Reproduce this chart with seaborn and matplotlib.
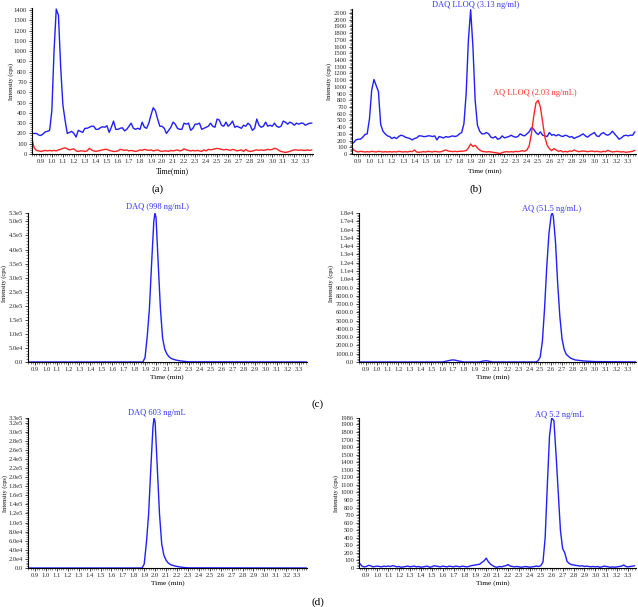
import matplotlib
matplotlib.use("Agg")
import matplotlib.pyplot as plt
from matplotlib.ticker import AutoMinorLocator
import seaborn as sns

# shared sampling grid for the noisy chromatograms (min)
time_grid = [
    0.82, 0.84, 0.86, 0.88, 0.90, 0.92, 0.94, 0.96, 0.98, 1.00,
    1.02, 1.04, 1.06, 1.08, 1.10, 1.12, 1.14, 1.16, 1.18, 1.20,
    1.22, 1.24, 1.26, 1.28, 1.30, 1.32, 1.34, 1.36, 1.38, 1.40,
    1.42, 1.44, 1.46, 1.48, 1.50, 1.52, 1.54, 1.56, 1.58, 1.60,
    1.62, 1.64, 1.66, 1.68, 1.70, 1.72, 1.74, 1.76, 1.78, 1.80,
    1.82, 1.84, 1.86, 1.88, 1.90, 1.92, 1.94, 1.96, 1.98, 2.00,
    2.02, 2.04, 2.06, 2.08, 2.10, 2.12, 2.14, 2.16, 2.18, 2.20,
    2.22, 2.24, 2.26, 2.28, 2.30, 2.32, 2.34, 2.36, 2.38, 2.40,
    2.42, 2.44, 2.46, 2.48, 2.50, 2.52, 2.54, 2.56, 2.58, 2.60,
    2.62, 2.64, 2.66, 2.68, 2.70, 2.72, 2.74, 2.76, 2.78, 2.80,
    2.82, 2.84, 2.86, 2.88, 2.90, 2.92, 2.94, 2.96, 2.98, 3.00,
    3.02, 3.04, 3.06, 3.08, 3.10, 3.12, 3.14, 3.16, 3.18, 3.20,
    3.22, 3.24, 3.26, 3.28, 3.30, 3.32, 3.34, 3.36,
]

# (a) blank
a_blue = [
    200, 200, 200, 185, 180, 195, 215, 220, 230, 420,
    1000, 1410, 1350, 850, 480, 330, 200, 210, 220, 200,
    165, 230, 220, 210, 250, 250, 260, 270, 270, 240,
    240, 255, 265, 260, 275, 210, 260, 320, 240, 240,
    250, 255, 225, 240, 270, 300, 250, 240, 250, 240,
    310, 260, 250, 300, 380, 450, 420, 340, 270, 270,
    250, 200, 230, 260, 310, 290, 250, 240, 240, 300,
    290, 300, 230, 250, 290, 290, 300, 240, 250, 260,
    270, 300, 270, 260, 340, 330, 280, 270, 310, 270,
    290, 320, 260, 270, 260, 250, 280, 270, 300, 280,
    230, 250, 340, 280, 260, 270, 310, 270, 280, 270,
    300, 270, 260, 270, 320, 310, 290, 310, 300, 280,
    300, 290, 300, 300, 280, 290, 300, 300,
]
a_red = [
    140, 60, 35, 30, 25, 30, 35, 30, 35, 30,
    35, 30, 40, 45, 55, 60, 50, 40, 45, 50,
    30, 25, 30, 30, 25, 30, 55, 40, 30, 25,
    30, 35, 40, 45, 45, 35, 30, 25, 25, 30,
    45, 40, 35, 40, 30, 35, 30, 25, 30, 40,
    35, 45, 40, 35, 40, 30, 35, 40, 30, 25,
    30, 30, 25, 35, 30, 35, 40, 30, 35, 50,
    40, 35, 30, 35, 30, 35, 30, 25, 40, 30,
    45, 40, 45, 50, 55, 50, 45, 40, 45, 40,
    35, 45, 40, 30, 35, 40, 25, 45, 30, 25,
    30, 35, 40, 35, 40, 35, 40, 45, 40, 45,
    55, 50, 35, 25, 20, 15, 20, 25, 35, 40,
    40, 35, 40, 35, 35, 40, 35, 40,
]

# (b) LLOQ
b_blue = [
    150, 150, 170, 210, 220, 220, 250, 290, 300, 520,
    950, 1110, 1020, 930, 440, 340, 300, 270, 260, 230,
    250, 230, 260, 280, 270, 250, 240, 230, 210, 230,
    240, 270, 270, 260, 260, 270, 270, 260, 270, 210,
    260, 250, 240, 260, 250, 260, 270, 260, 270, 300,
    320, 450, 900, 1700, 2150, 1600, 800, 430, 340, 300,
    300, 320, 300, 250, 240, 260, 220, 230, 270, 240,
    250, 260, 280, 260, 250, 260, 300, 280, 270, 300,
    330, 390, 370, 320, 290, 330, 280, 270, 260, 320,
    280, 290, 270, 290, 270, 260, 280, 270, 250, 260,
    230, 250, 260, 280, 300, 270, 250, 280, 300, 320,
    270, 260, 300, 320, 290, 280, 300, 340, 300, 260,
    220, 240, 270, 280, 270, 280, 280, 330,
]
b_red = [
    130, 110, 60, 40, 30, 40, 35, 30, 35, 30,
    40, 35, 30, 40, 35, 30, 35, 30, 35, 30,
    35, 30, 40, 35, 30, 35, 30, 40, 35, 60,
    30, 25, 30, 35, 30, 40, 35, 30, 40, 35,
    30, 35, 50, 60, 45, 40, 35, 40, 35, 40,
    40, 45, 50, 90, 150, 110, 130, 90, 60, 40,
    35, 30, 35, 30, 25, 20, 15, 5, 20, 30,
    35, 30, 35, 30, 40, 35, 40, 50, 40, 60,
    120, 300, 550, 760, 800, 700, 480, 250, 130, 80,
    50, 80, 60, 40, 50, 30, 40, 30, 45, 40,
    60, 45, 35, 40, 45, 40, 35, 40, 45, 35,
    40, 35, 30, 40, 35, 55, 40, 30, 35, 40,
    35, 30, 35, 25, 30, 35, 40, 55,
]

# (c)/(d) DAQ high standards
daq_time = [0.82, 1.88, 1.90, 1.92, 1.94, 1.96, 1.98, 1.99, 2.00, 2.02, 2.04,
            2.06, 2.08, 2.10, 2.12, 2.14, 2.18, 2.22, 2.26, 2.30, 3.40]
c_daq = [0, 0, 15000, 90000, 190000, 350000, 500000, 530000, 515000, 350000,
         190000, 85000, 45000, 28000, 18000, 12000, 7000, 4000, 2000, 500, 0]
d_daq = [0, 0, 9000, 56000, 118000, 218000, 311000, 330000, 320000, 218000,
         118000, 53000, 28000, 17000, 11000, 7500, 4400, 2500, 1200, 300, 0]

# (c) AQ 51.5 ng/mL
aq_time = [0.82, 1.60, 1.64, 1.68, 1.70, 1.72, 1.76, 1.80, 1.94, 1.98, 2.00,
           2.02, 2.06, 2.46, 2.48, 2.50, 2.52, 2.54, 2.56, 2.58, 2.60, 2.61,
           2.62, 2.64, 2.66, 2.68, 2.70, 2.72, 2.74, 2.78, 2.82, 2.90, 3.00, 3.40]
c_aq = [0, 0, 100, 220, 250, 220, 100, 0, 0, 120, 150,
        120, 0, 0, 150, 600, 2500, 6500, 11500, 15500, 17700, 18000,
        17600, 14500, 9500, 5500, 2800, 1500, 900, 450, 250, 120, 50, 0]

# (d) AQ 5.2 ng/mL
d_aq = [
    80, 60, 25, 15, 20, 35, 30, 15, 20, 25,
    20, 15, 25, 20, 25, 20, 30, 25, 15, 20,
    10, 15, 20, 25, 15, 20, 25, 15, 20, 10,
    15, 20, 25, 10, 15, 30, 25, 20, 15, 25,
    20, 15, 25, 20, 15, 25, 20, 15, 25, 20,
    15, 20, 30, 35, 40, 45, 50, 75, 95, 130,
    80, 50, 30, 15, 10, 20, 15, 25, 30, 45,
    25, 20, 15, 20, 15, 10, 15, 20, 15, 10,
    15, 20, 25, 20, 30, 80, 400, 1100, 1750, 1986,
    1950, 1500, 1000, 500, 260, 200, 90, 60, 45, 40,
    35, 30, 25, 30, 20, 25, 20, 15, 20, 15,
    20, 10, 15, 25, 20, 15, 10, 15, 10, 15,
    20, 25, 40, 20, 15, 20, 25, 30,
]

x_ticks = [0.9, 1.0, 1.1, 1.2, 1.3, 1.4, 1.5, 1.6, 1.7, 1.8, 1.9, 2.0, 2.1,
           2.2, 2.3, 2.4, 2.5, 2.6, 2.7, 2.8, 2.9, 3.0, 3.1, 3.2, 3.3]

a_yticks = list(range(0, 1401, 100))
b_yticks = list(range(0, 2101, 100))
cl_yticks = [0, 50000, 100000, 150000, 200000, 250000, 300000, 350000,
             400000, 450000, 500000, 530000]
cl_ylabels = ["0.0", "5.0e4", "1.0e5", "1.5e5", "2.0e5", "2.5e5", "3.0e5",
              "3.5e5", "4.0e5", "4.5e5", "5.0e5", "5.3e5"]
cr_yticks = [0, 1000, 2000, 3000, 4000, 5000, 6000, 7000, 8000, 9000,
             10000, 11000, 12000, 13000, 14000, 15000, 16000, 17000, 18000]
cr_ylabels = ["0.0", "1000.0", "2000.0", "3000.0", "4000.0", "5000.0",
              "6000.0", "7000.0", "8000.0", "9000.0", "1.0e4", "1.1e4",
              "1.2e4", "1.3e4", "1.4e4", "1.5e4", "1.6e4", "1.7e4", "1.8e4"]
dl_yticks = [0, 20000, 40000, 60000, 80000, 100000, 120000, 140000, 160000,
             180000, 200000, 220000, 240000, 260000, 280000, 300000, 320000,
             330000]
dl_ylabels = ["0.0", "2.0e4", "4.0e4", "6.0e4", "8.0e4", "1.0e5", "1.2e5",
              "1.4e5", "1.6e5", "1.8e5", "2.0e5", "2.2e5", "2.4e5", "2.6e5",
              "2.8e5", "3.0e5", "3.2e5", "3.3e5"]
dr_yticks = list(range(0, 1901, 100)) + [1986]

BLUE = "#1f1fff"
RED = "#ff2424"
W, H = 638, 607

sns.set_style("ticks")
plt.rcParams["font.family"] = ["Liberation Serif", "DejaVu Serif"]

fig = plt.figure(figsize=(W / 100, H / 100), dpi=100)


def panel(box, xlim, ylim, yticks, ylabels=None):
    left, top, right, bottom = box
    ax = fig.add_axes([left / W, 1 - bottom / H, (right - left) / W, (bottom - top) / H])
    ax.set_xlim(*xlim)
    ax.set_ylim(*ylim)
    ax.set_xticks(x_ticks, ["%.1f" % t for t in x_ticks])
    if ylabels is None:
        ylabels = [str(v) for v in yticks]
    ax.set_yticks(yticks, ylabels)
    ax.xaxis.set_minor_locator(AutoMinorLocator(5))
    ax.yaxis.set_minor_locator(AutoMinorLocator(5))
    ax.tick_params(which="major", length=2.5, width=0.6, pad=1.2, labelsize=4.7)
    ax.tick_params(which="minor", length=1.2, width=0.4)
    ax.set_xlabel("")
    ax.set_ylabel("")
    sns.despine(ax=ax)
    for s in ("left", "bottom"):
        ax.spines[s].set_linewidth(0.8)
        ax.spines[s].set_color("black")
    return ax


def trace(ax, t, v, color):
    sns.lineplot(x=t, y=v, ax=ax, color=color, linewidth=1.0,
                 estimator=None, sort=False, legend=False)


ax_a = panel((32, 8, 313, 154), (0.82, 3.37), (0, 1420), a_yticks)
trace(ax_a, time_grid, a_blue, BLUE)
trace(ax_a, time_grid, a_red, RED)

ax_b = panel((352, 9, 636, 154), (0.845, 3.37), (0, 2160), b_yticks)
trace(ax_b, time_grid, b_blue, BLUE)
trace(ax_b, time_grid, b_red, RED)

ax_cl = panel((28, 213, 307, 362), (0.836, 3.373), (0, 530000), cl_yticks, cl_ylabels)
trace(ax_cl, daq_time, c_daq, BLUE)

ax_cr = panel((359, 213, 636, 362), (0.839, 3.378), (0, 18000), cr_yticks, cr_ylabels)
trace(ax_cr, aq_time, c_aq, BLUE)

ax_dl = panel((28, 418, 307, 568), (0.836, 3.39), (0, 330000), dl_yticks, dl_ylabels)
trace(ax_dl, daq_time, d_daq, BLUE)

ax_dr = panel((359, 418, 636, 568), (0.833, 3.373), (0, 1986), dr_yticks)
trace(ax_dr, time_grid, d_aq, BLUE)


def label(x, y, s, size, color="black", rot=0):
    fig.text(x / W, 1 - y / H, s, ha="center", va="center", fontsize=size,
             color=color, rotation=rot)


# peak names
label(476, 5, "DAQ LLOQ (3.13 ng/ml)", 6, "#3535ff")
label(535, 93, "AQ LLOQ (2.03 ng/mL)", 6, "#ff3535")
label(157, 207, "DAQ (998 ng/mL)", 6, "#3535ff")
label(552, 209, "AQ (51.5 ng/mL)", 6, "#3535ff")
label(157, 413, "DAQ 603 ng/mL", 6, "#3535ff")
label(560, 415, "AQ 5.2 ng/mL", 6, "#3535ff")

# axis titles
for x, y in [(11, 82), (329, 82), (4, 283), (331, 283), (5, 493), (336, 493)]:
    label(x, y, "Intensity (cps)", 4.6, rot=90)
label(172, 171, "Time(min)", 5.5)
for x, y in [(485, 171), (167, 377), (493, 377), (168, 583), (493, 583)]:
    label(x, y, "Time (min)", 5.3)

# panel letters
label(158, 189, "(a)", 8)
label(476, 189, "(b)", 8)
label(318, 404, "(c)", 8)
label(318, 602, "(d)", 8)

fig.savefig("out.png", dpi=100)
